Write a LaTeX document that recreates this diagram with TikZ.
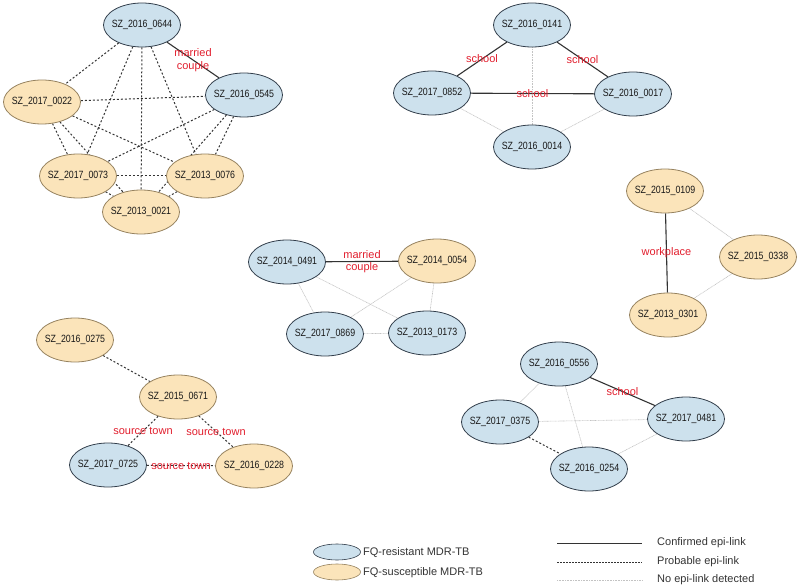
\documentclass[tikz,border=0pt]{standalone}
\usepackage{fontspec}
\setmainfont{Liberation Sans}
\newfontfamily\casefont[FakeStretch=0.84]{Liberation Sans}
\usetikzlibrary{shapes.geometric,backgrounds}

\definecolor{resblue}{RGB}{205,225,237}
\definecolor{susorange}{RGB}{251,228,186}
\definecolor{resborder}{RGB}{50,62,75}
\definecolor{susborder}{RGB}{150,130,95}
\definecolor{linkred}{RGB}{225,30,45}
\definecolor{greylink}{RGB}{195,195,195}

\begin{document}
\begin{tikzpicture}[x=1pt,y=-1pt,
  case node/.style={ellipse,draw,line width=0.8pt,minimum width=77pt,minimum height=44pt,
    inner xsep=-8pt,inner ysep=0pt,text=black!90,font=\casefont\fontsize{10.5}{12}\selectfont},
  res node/.style={case node,fill=resblue,draw=resborder},
  sus node/.style={case node,fill=susorange,draw=susborder},
  key node/.style={ellipse,draw,line width=0.6pt,minimum width=47pt,minimum height=16pt,inner sep=0pt},
  key text/.style={anchor=west,inner sep=0pt,text=black!80,font=\fontsize{11}{13}\selectfont},
  confirmed/.style={draw=black!80,line width=1.1pt},
  probable/.style={draw=black!80,line width=1pt,dash pattern=on 2pt off 2pt},
  no link/.style={draw=greylink,line width=0.6pt,dash pattern=on 1pt off 0.6pt}]

  \useasboundingbox (0,0) rectangle (800,588);

  % cluster with the married couple
  \node[res node] (0644) at (142,25) {SZ\_2016\_0644};
  \node[res node] (0545) at (244,95) {SZ\_2016\_0545};
  \node[sus node] (0022) at (42,102) {SZ\_2017\_0022};
  \node[sus node] (0073) at (78,176) {SZ\_2017\_0073};
  \node[sus node] (0076) at (205,176) {SZ\_2013\_0076};
  \node[sus node] (0021) at (141,212) {SZ\_2013\_0021};

  % school cluster
  \node[res node] (0141) at (532,25) {SZ\_2016\_0141};
  \node[res node] (0852) at (432,93) {SZ\_2017\_0852};
  \node[res node] (0017) at (633,94) {SZ\_2016\_0017};
  \node[res node] (0014) at (532,147) {SZ\_2016\_0014};

  \node[sus node] (0109) at (665,191) {SZ\_2015\_0109};
  \node[sus node] (0338) at (758,257) {SZ\_2015\_0338};
  \node[sus node] (0301) at (668,315) {SZ\_2013\_0301};

  \node[res node] (0491) at (287,262) {SZ\_2014\_0491};
  \node[sus node] (0054) at (437,261) {SZ\_2014\_0054};
  \node[res node] (0869) at (325,334) {SZ\_2017\_0869};
  \node[res node] (0173) at (427,333) {SZ\_2013\_0173};

  \node[sus node] (0275) at (75,340) {SZ\_2016\_0275};
  \node[sus node] (0671) at (178,397) {SZ\_2015\_0671};
  \node[res node] (0725) at (108,465) {SZ\_2017\_0725};
  \node[sus node] (0228) at (254,466) {SZ\_2016\_0228};

  \node[res node] (0556) at (559,364) {SZ\_2016\_0556};
  \node[res node] (0375) at (500,422) {SZ\_2017\_0375};
  \node[res node] (0481) at (686,419) {SZ\_2017\_0481};
  \node[res node] (0254) at (589,469) {SZ\_2016\_0254};

  \begin{scope}[on background layer]
  \path[every node/.style={text=linkred,align=center,inner sep=0pt,
      font=\fontsize{11}{12.5}\selectfont}]
      (0644) edge[confirmed] node {married\\couple} (0545)
      (0644) edge[probable] (0022)
      (0644) edge[probable] (0073)
      (0644) edge[probable] (0021)
      (0644) edge[probable] (0076)
      (0022) edge[probable] (0545)
      (0022) edge[probable] (0073)
      (0022) edge[probable] (0021)
      (0022) edge[probable] (0076)
      (0545) edge[probable] (0073)
      (0545) edge[probable] (0021)
      (0545) edge[probable] (0076)
      (0073) edge[probable] (0076)
      (0073) edge[probable] (0021)
      (0076) edge[probable] (0021)

      (0141) edge[confirmed] node {school} (0852)
      (0141) edge[confirmed] node {school} (0017)
      (0852) edge[confirmed] node {school} (0017)
      (0141) edge[no link] (0014)
      (0852) edge[no link] (0014)
      (0017) edge[no link] (0014)

      (0109) edge[confirmed] node {workplace} (0301)
      (0109) edge[no link] (0338)
      (0338) edge[no link] (0301)

      (0491) edge[confirmed] node {married\\couple} (0054)
      (0491) edge[no link] (0869)
      (0491) edge[no link] (0173)
      (0054) edge[no link] (0869)
      (0054) edge[no link] (0173)
      (0869) edge[no link] (0173)

      (0275) edge[probable] (0671)
      (0671) edge[probable] node {source town} (0725)
      (0671) edge[probable] node {source town} (0228)
      (0725) edge[probable] node {source town} (0228)

      (0556) edge[confirmed] node {school} (0481)
      (0556) edge[no link] (0375)
      (0556) edge[no link] (0254)
      (0375) edge[no link] (0481)
      (0375) edge[probable] (0254)
      (0481) edge[no link] (0254);
  \end{scope}

  % legend
  \node[key node,fill=resblue,draw=resborder] (key res) at (337,552) {};
  \node[key node,fill=susorange,draw=susborder] (key sus) at (337,572) {};
  \node[key text] (key res text) at (363,553) {FQ-resistant MDR-TB};
  \node[key text] (key sus text) at (363,573) {FQ-susceptible MDR-TB};

  \coordinate (conf a) at (557,543);  \coordinate (conf b) at (642,543);
  \coordinate (prob a) at (557,562);  \coordinate (prob b) at (642,562);
  \coordinate (none a) at (557,580);  \coordinate (none b) at (642,580);
  \draw[confirmed,line width=0.9pt] (conf a) -- (conf b);
  \draw[probable,line width=0.9pt,dash pattern=on 1.5pt off 1.5pt] (prob a) -- (prob b);
  \draw[no link] (none a) -- (none b);
  \node[key text] (key conf) at (657,543) {Confirmed epi-link};
  \node[key text] (key prob) at (657,562) {Probable epi-link};
  \node[key text] (key none) at (657,580) {No epi-link detected};
\end{tikzpicture}
\end{document}
